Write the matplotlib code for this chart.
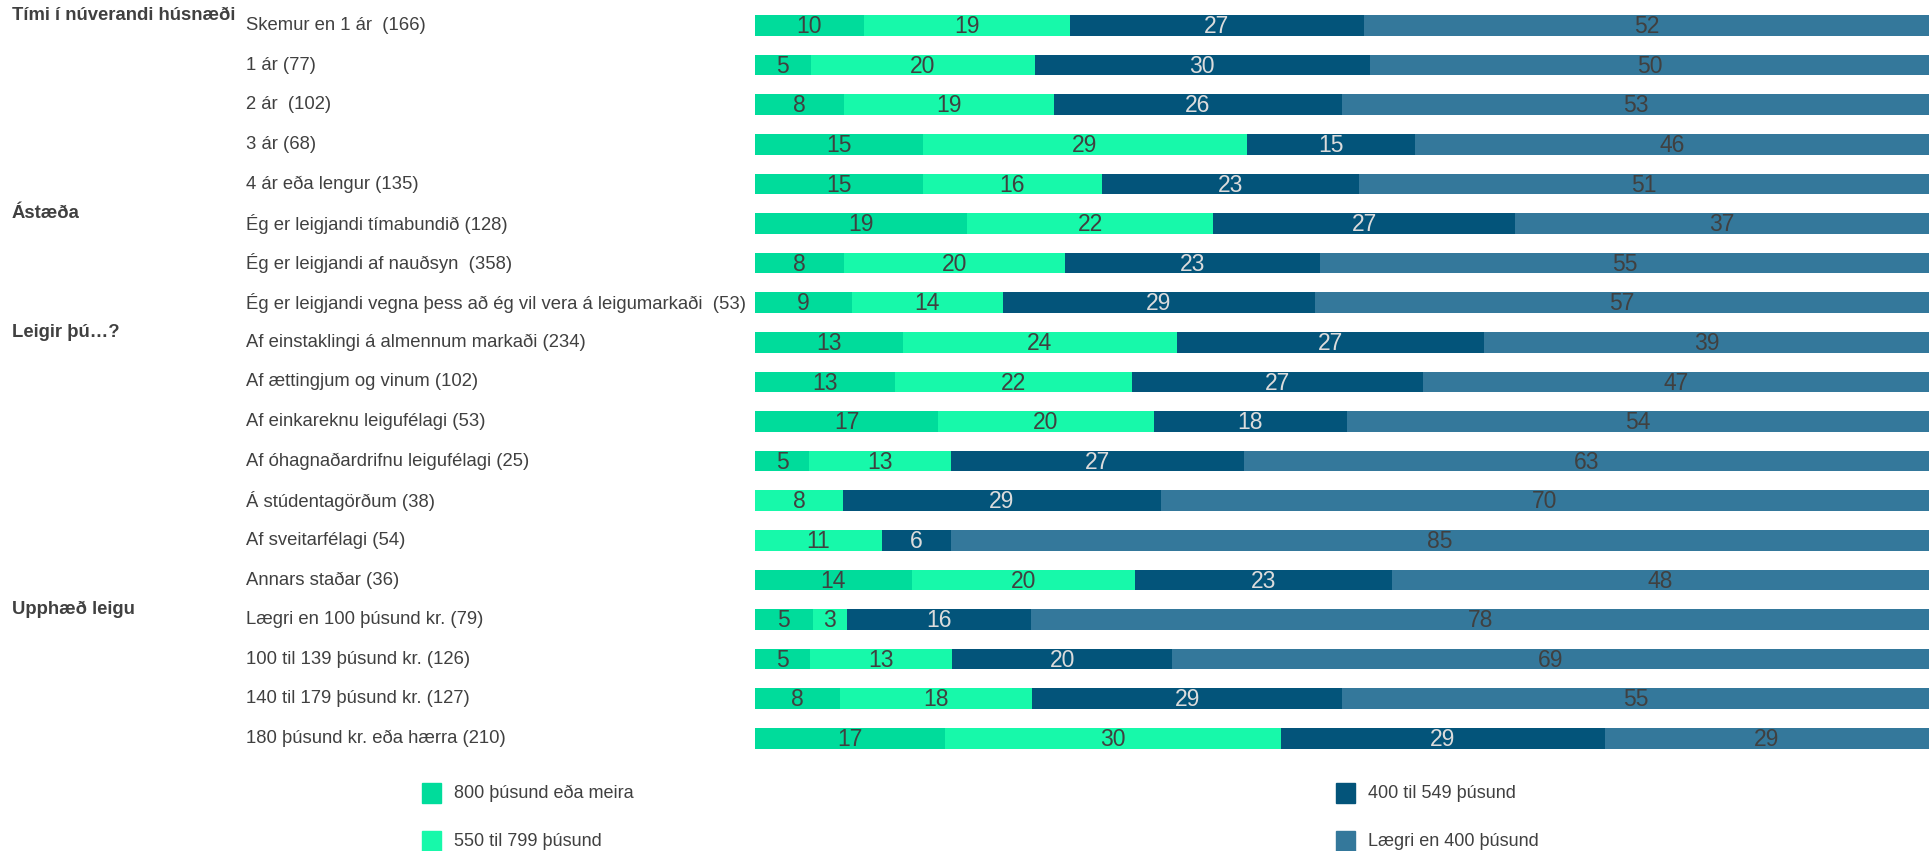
import matplotlib
matplotlib.use("Agg")
import matplotlib.pyplot as plt
from matplotlib.transforms import blended_transform_factory
from matplotlib.patches import Rectangle
import numpy as np

categories = [
    "Skemur en 1 ár  (166)",
    "1 ár (77)",
    "2 ár  (102)",
    "3 ár (68)",
    "4 ár eða lengur (135)",
    "Ég er leigjandi tímabundið (128)",
    "Ég er leigjandi af nauðsyn  (358)",
    "Ég er leigjandi vegna þess að ég vil vera á leigumarkaði  (53)",
    "Af einstaklingi á almennum markaði (234)",
    "Af ættingjum og vinum (102)",
    "Af einkareknu leigufélagi (53)",
    "Af óhagnaðardrifnu leigufélagi (25)",
    "Á stúdentagörðum (38)",
    "Af sveitarfélagi (54)",
    "Annars staðar (36)",
    "Lægri en 100 þúsund kr. (79)",
    "100 til 139 þúsund kr. (126)",
    "140 til 179 þúsund kr. (127)",
    "180 þúsund kr. eða hærra (210)",
]

groups = ["Tími í núverandi húsnæði", "Ástæða", "Leigir þú…?", "Upphæð leigu"]
group_start = [0, 5, 8, 15]

series_names = ["800 þúsund eða meira", "550 til 799 þúsund",
                "400 til 549 þúsund", "Lægri en 400 þúsund"]

s800 = [10, 5, 8, 15, 15, 19, 8, 9, 13, 13, 17, 5, 0, 0, 14, 5, 5, 8, 17]
s550 = [19, 20, 19, 29, 16, 22, 20, 14, 24, 22, 20, 13, 8, 11, 20, 3, 13, 18, 30]
s400 = [27, 30, 26, 15, 23, 27, 23, 29, 27, 27, 18, 27, 29, 6, 23, 16, 20, 29, 29]
slow = [52, 50, 53, 46, 51, 37, 55, 57, 39, 47, 54, 63, 70, 85, 48, 78, 69, 55, 29]

colors = ["#00DC9B", "#17F9AA", "#03547A", "#34789B"]
text_colors = ["#404040", "#404040", "#DCDCDC", "#404040"]

W, H = 1929, 851
fig = plt.figure(figsize=(W / 100, H / 100), dpi=100)
ax = fig.add_axes([755 / W, 0, 1 - 755 / W, 1])

row_h = 39.6
top = 25.5
n = len(categories)
ax.set_ylim(n - 1 + (H - (top + row_h * (n - 1))) / row_h, -top / row_h)
ax.set_xlim(0, 100)
ax.axis("off")

data = np.array([s800, s550, s400, slow], dtype=float)
totals = data.sum(axis=0)
y = np.arange(n)
left = np.zeros(n)
for k in range(4):
    widths = data[k] / totals * 100
    ax.barh(y, widths, left=left, height=0.52, color=colors[k], linewidth=0)
    for i in range(n):
        if data[k][i] > 0:
            ax.text(left[i] + widths[i] / 2, y[i] + 0.03, f"{int(data[k][i])}",
                    ha="center", va="center", fontsize=16.5,
                    color=text_colors[k], family=["Liberation Sans", "DejaVu Sans"])
    left += widths

narrow = ["Liberation Sans Narrow", "Liberation Sans", "DejaVu Sans"]
tr = blended_transform_factory(fig.transFigure, ax.transData)
for i, c in enumerate(categories):
    ax.text(246 / W, y[i], c, transform=tr, ha="left", va="center",
            fontsize=13.3, color="#404040", family=narrow)
for g, s in zip(groups, group_start):
    ax.text(12 / W, s - 0.25, g, transform=tr, ha="left", va="center",
            fontsize=13.3, color="#404040", fontweight="bold", family=narrow)

# legend
leg_pos = [(422, 793), (422, 841), (1336, 793), (1336, 841)]
for k, (px, py) in enumerate(leg_pos):
    fig.patches.append(Rectangle((px / W, 1 - (py + 10) / H), 19 / W, 20 / H,
                                 transform=fig.transFigure, color=colors[k]))
    fig.text((px + 32) / W, 1 - py / H, series_names[k], ha="left", va="center",
             fontsize=13, color="#404040", family=narrow)

fig.savefig("out.png", dpi=100, facecolor="white")
